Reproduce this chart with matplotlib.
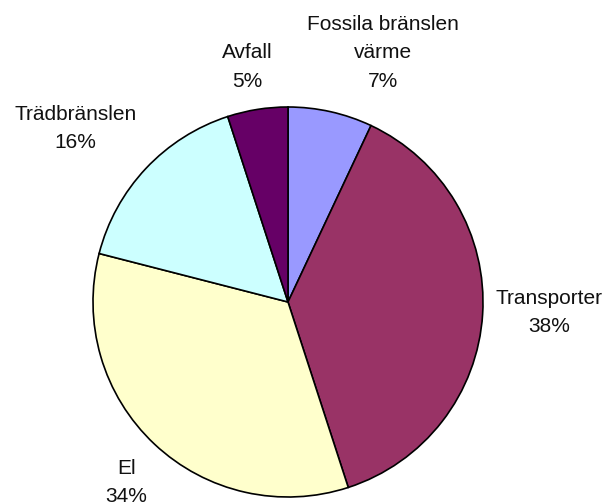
import matplotlib
matplotlib.use("Agg")
import matplotlib.pyplot as plt

categories = ["Fossila bränslen\nvärme", "Transporter", "El", "Trädbränslen", "Avfall"]
values = [7, 38, 34, 16, 5]
colors = ["#9999FF", "#993366", "#FFFFCC", "#CCFFFF", "#660066"]
label_pos = [(0.487, 1.277), (1.34, -0.054), (-0.83, -0.925), (-1.09, 0.89), (-0.21, 1.205)]

plt.rcParams['font.family'] = ['Liberation Sans', 'DejaVu Sans']
W, H = 609, 504
fig = plt.figure(figsize=(W / 100, H / 100), dpi=100)
cx, cy, r = 288, 302, 195
ax = fig.add_axes([(cx - r) / W, (H - cy - r) / H, 2 * r / W, 2 * r / H])
wedges, _ = ax.pie(values, colors=colors, startangle=90, counterclock=False,
                   radius=1, wedgeprops=dict(edgecolor="black", linewidth=1.2))
ax.set_xlim(-1, 1)
ax.set_ylim(-1, 1)
ax.set_aspect("equal")
ax.axis("off")
total = sum(values)
for name, v, (x, y) in zip(categories, values, label_pos):
    ax.text(x, y, f"{name}\n{round(100 * v / total)}%", ha="center", va="center",
            fontsize=15, linespacing=1.62, clip_on=False, color="#111111")
fig.savefig("out.png", dpi=100)
